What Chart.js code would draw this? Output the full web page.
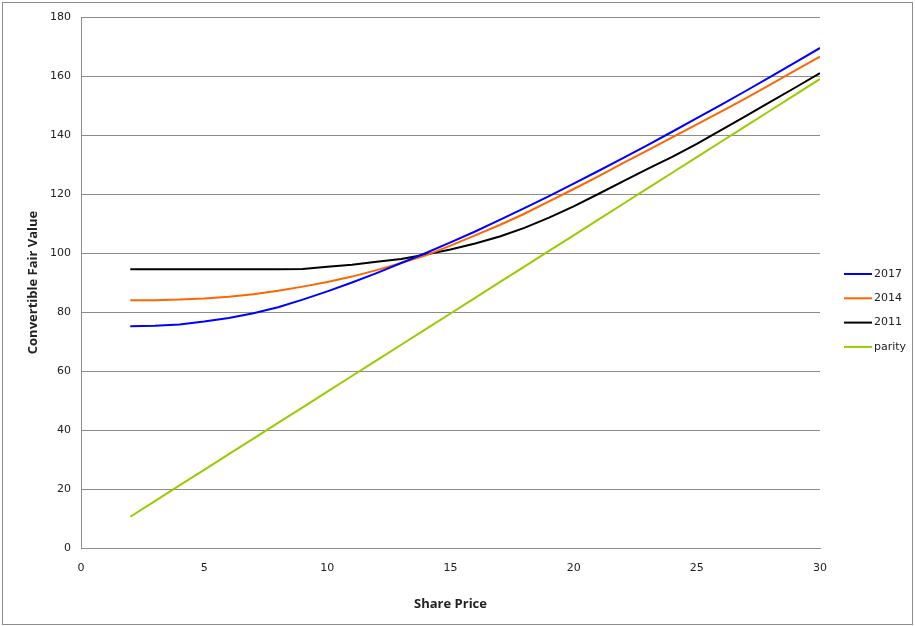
<!DOCTYPE html>
<html>
<head>
<meta charset="utf-8">
<script src="https://cdn.jsdelivr.net/npm/chart.js@4.4.1/dist/chart.umd.min.js"></script>
<style>
  html, body { margin: 0; padding: 0; background: #fff; }
  #wrap { width: 915px; height: 626px; position: relative; }
</style>
</head>
<body>
<div id="wrap"><canvas id="fairValueChart"></canvas></div>
<script>
// share price grid
const sharePrice = [2, 3, 4, 5, 6, 7, 8, 9, 10, 11, 12, 13, 14, 15, 16, 17, 18, 19, 20, 21, 22, 23, 24, 25, 26, 27, 28, 29, 30];

// convertible fair value per maturity
const fv2017 = [75.2, 75.3, 75.8, 76.8, 78, 79.6, 81.6, 84.2, 87, 90, 93.2, 96.6, 100, 103.6, 107.3, 111.2, 115.2, 119.3, 123.5, 127.8, 132.2, 136.6, 141.1, 145.7, 150.3, 155, 159.8, 164.6, 169.5];
const fv2014 = [84, 84, 84.2, 84.6, 85.2, 86, 87.2, 88.6, 90.2, 92, 94.2, 96.6, 99.2, 102.5, 106, 109.5, 113.3, 117.5, 121.7, 126, 130.5, 134.8, 139.2, 143.6, 148, 152.5, 157.2, 161.9, 166.6];
const fv2011 = [94.5, 94.5, 94.5, 94.5, 94.5, 94.5, 94.5, 94.6, 95.3, 96, 97, 98, 99.5, 101.2, 103.2, 105.6, 108.5, 112, 115.8, 120, 124.3, 128.5, 132.6, 137, 141.7, 146.5, 151.3, 156.1, 161];
const parity = [10.6, 15.9, 21.2, 26.5, 31.8, 37.1, 42.4, 47.7, 53, 58.3, 63.6, 68.9, 74.2, 79.5, 84.8, 90.1, 95.4, 100.7, 106, 111.3, 116.6, 121.9, 127.2, 132.5, 137.8, 143.1, 148.4, 153.7, 159];

const seriesLabels = ['2017', '2014', '2011', 'parity'];
const seriesColors = ['#0000ff', '#ff6600', '#000000', '#99cc00'];
const seriesValues = [fv2017, fv2014, fv2011, parity];

const toPoints = vals => vals.map((v, i) => ({ x: sharePrice[i], y: v }));

// right side legend, drawn like the spreadsheet one
const sideLegend = {
    id: 'sideLegend',
    afterDraw(chart) {
        const ctx = chart.ctx;
        ctx.save();
        ctx.font = '11px "DejaVu Sans"';
        ctx.textBaseline = 'middle';
        chart.data.datasets.forEach((ds, i) => {
            const y = 274 + i * 24.3;
            ctx.strokeStyle = ds.borderColor;
            ctx.lineWidth = 2;
            ctx.beginPath();
            ctx.moveTo(844, y);
            ctx.lineTo(872, y);
            ctx.stroke();
            ctx.fillStyle = '#222';
            ctx.fillText(ds.label, 874, y);
        });
        ctx.restore();
    }
};

// thin grey frame round the picture
const frame = {
    id: 'frame',
    afterDraw(chart) {
        const ctx = chart.ctx;
        ctx.save();
        ctx.strokeStyle = '#8c8c8c';
        ctx.lineWidth = 1;
        ctx.strokeRect(2.5, 2.5, 910, 622);
        ctx.restore();
    }
};

const titleFont = { family: 'Open Sans', size: 13, weight: 'bold' };

const ctxFv = document.getElementById('fairValueChart').getContext('2d');
const fvChart = new Chart(ctxFv, {
    type: 'line',
    data: {
        datasets: seriesLabels.map((lab, i) => ({
            label: lab,
            data: toPoints(seriesValues[i]),
            borderColor: seriesColors[i],
            backgroundColor: seriesColors[i],
            borderWidth: 2,
            pointRadius: 0,
            tension: 0,
            fill: false
        }))
    },
    options: {
        responsive: true,
        maintainAspectRatio: false,
        animation: false,
        layout: { padding: { top: 17, right: 95, bottom: 0, left: 0 } },
        plugins: { legend: { display: false }, tooltip: { enabled: false } },
        scales: {
            x: {
                type: 'linear',
                min: 0, max: 30,
                ticks: { stepSize: 5, padding: 14, color: '#222', font: { family: 'DejaVu Sans', size: 11 } },
                grid: { display: false, drawTicks: false },
                border: { display: true, color: '#8c8c8c', width: 1 },
                title: { display: true, text: 'Share Price', color: '#222', font: titleFont, padding: { top: 0, bottom: 14 } },
                afterFit: s => { s.height = 78; }
            },
            y: {
                min: 0, max: 180,
                ticks: { stepSize: 20, padding: 10, color: '#222', font: { family: 'DejaVu Sans', size: 11 } },
                grid: { color: '#8c8c8c', lineWidth: 1, drawTicks: false },
                border: { display: true, color: '#8c8c8c', width: 1 },
                title: { display: true, text: 'Convertible Fair Value', color: '#222', font: titleFont, padding: { top: 25, bottom: 0 } },
                afterFit: s => { s.width = 81; }
            }
        }
    },
    plugins: [sideLegend, frame]
});
</script>
</body>
</html>
